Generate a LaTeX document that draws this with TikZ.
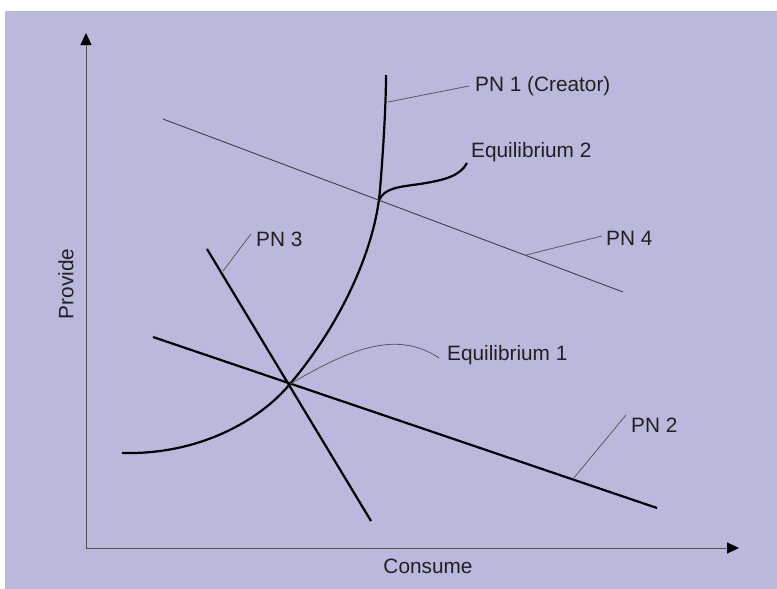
\documentclass[tikz,border=0pt]{standalone}
\usepackage{fontspec}
\setmainfont{Liberation Sans}
\usetikzlibrary{arrows.meta}
\definecolor{bg}{HTML}{BAB8DC}
\definecolor{axisgray}{HTML}{505050}
\definecolor{txt}{HTML}{231F20}
\tikzset{
  curvebold/.style={line width=2.2pt, black},
  thinline/.style={line width=0.9pt, draw=black!75},
  leader/.style={line width=0.8pt, draw=black!65},
  axisline/.style={line width=1pt, draw=axisgray, -{Triangle[length=12pt,width=11pt,fill=black,color=black]}},
  lbl/.style={font=\fontsize{20.8}{24}\selectfont, text=txt, inner sep=0pt},
}
\begin{document}
\begin{tikzpicture}[x=1pt,y=-1pt]
\useasboundingbox (0,0) rectangle (777,589);
\fill[white] (0,0) rectangle (777,589);
\fill[bg] (5,11) rectangle (777,589);

% axes
\coordinate (O) at (86,548);
\coordinate (ytip) at (86,33);
\coordinate (xtip) at (739,548);
\draw[axisline] (O) -- (ytip);
\draw[axisline] (O) -- (xtip);

% key points
\coordinate (E1) at (290,384);
\coordinate (E2) at (379,200);

% PN1 curve
\coordinate (p1s) at (122,453);
\coordinate (p1e) at (386,75);
\draw[curvebold] (p1s) .. controls (200,455) and (260,420) .. (E1)
  .. controls (340,325) and (375,250) .. (380,190)
  .. controls (384,140) and (386,100) .. (p1e);

% PN4 line
\coordinate (p4s) at (163,119);
\coordinate (p4e) at (623,292);
\draw[thinline] (p4s) -- (p4e);

% PN2 line
\coordinate (p2s) at (153,337);
\coordinate (p2e) at (657,508);
\draw[curvebold] (p2s) -- (p2e);

% PN3 line
\coordinate (p3s) at (207,249);
\coordinate (p3e) at (371,521);
\draw[curvebold] (p3s) -- (p3e);

% Equilibrium 2 bold curve
\coordinate (e2end) at (467,163);
\draw[curvebold] (E2) .. controls (385,188) and (398,187) .. (420,184)
  .. controls (445,180) and (460,176) .. (e2end);

% labels
\node[lbl, anchor=west] (lpn1) at (475,86) {PN 1 (Creator)};
\node[lbl, anchor=west] (leq2) at (471,152) {Equilibrium 2};
\node[lbl, anchor=west] (lpn4) at (606,238) {PN 4};
\node[lbl, anchor=west] (lpn3) at (256,239) {PN 3};
\node[lbl, anchor=west] (leq1) at (447,355) {Equilibrium 1};
\node[lbl, anchor=west] (lpn2) at (631,425) {PN 2};
\node[lbl] (lcons) at (428,566) {Consume};
\node[lbl, rotate=90] (lprov) at (66,284) {Provide};

% leaders
\coordinate (a1) at (388,102);
\coordinate (a4) at (526,255);
\coordinate (a3) at (223,271);
\coordinate (a2) at (573,479);
\draw[leader] (a1) -- ([xshift=-6pt]lpn1.west);
\draw[leader] (a4) -- ([xshift=-4pt,yshift=2pt]lpn4.west);
\draw[leader] (a3) -- ([xshift=-5pt,yshift=5pt]lpn3.west);
\draw[leader] (a2) -- ([xshift=-5pt,yshift=10pt]lpn2.west);
\draw[leader] (E1) .. controls (345,352) and (395,328) .. ([xshift=-8pt,yshift=-3pt]leq1.west);
\end{tikzpicture}
\end{document}
